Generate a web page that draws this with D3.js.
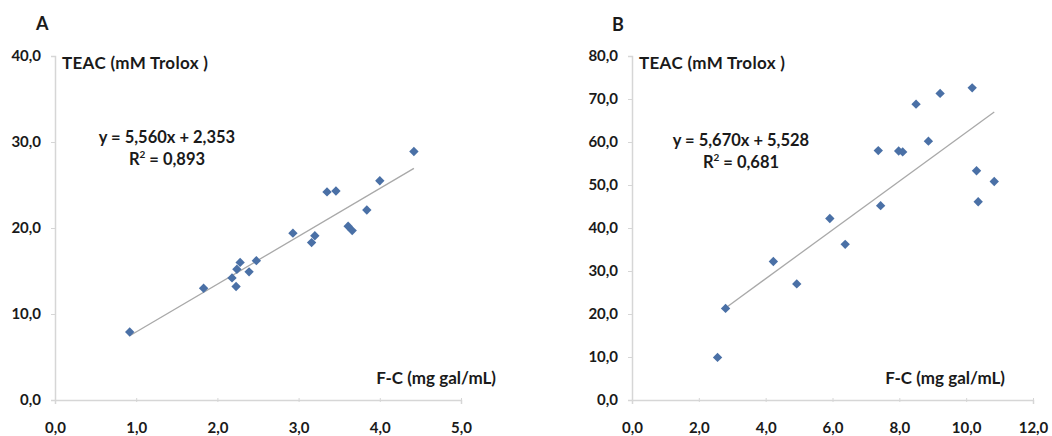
<!DOCTYPE html>
<html>
<head>
<meta charset="utf-8">
<script src="https://cdn.jsdelivr.net/npm/d3@7"></script>
<style>
  html, body { margin: 0; padding: 0; background: #fff; }
  svg text { font-family: Lato, "Open Sans", sans-serif; font-weight: bold; fill: #1a1a1a; }
</style>
</head>
<body>
<svg id="chart" width="1052" height="436"></svg>
<script>
// Panel A: F-C (mg gal/mL) vs TEAC (mM Trolox)
const fcA = [0.92, 1.83, 2.18, 2.23, 2.24, 2.28, 2.39, 2.48, 2.93, 3.16, 3.20, 3.35, 3.46, 3.61, 3.66, 3.84, 4.00, 4.42];
const teacA = [7.9, 13.0, 14.2, 13.2, 15.2, 16.0, 14.9, 16.2, 19.4, 18.3, 19.1, 24.2, 24.3, 20.2, 19.7, 22.1, 25.5, 28.9];
const fitA = { slope: 5.560, intercept: 2.353, r2: 0.893 };
const xTicksA = [0, 1, 2, 3, 4, 5];
const yTicksA = [0, 10, 20, 30, 40];

// Panel B
const fcB = [2.56, 2.80, 4.23, 4.93, 5.92, 6.38, 7.44, 7.37, 7.98, 8.10, 8.50, 8.87, 9.22, 10.18, 10.31, 10.84, 10.36];
const teacB = [9.9, 21.3, 32.2, 27.0, 42.2, 36.2, 45.2, 58.0, 57.9, 57.7, 68.8, 60.2, 71.3, 72.6, 53.3, 50.8, 46.1];
const fitB = { slope: 5.670, intercept: 5.528, r2: 0.681, from: 2.80 };
const xTicksB = [0, 2, 4, 6, 8, 10, 12];
const yTicksB = [0, 10, 20, 30, 40, 50, 60, 70, 80];

const locale = d3.formatLocale({ decimal: ",", thousands: ".", grouping: [3], currency: ["", ""] });
const fmt1 = locale.format(".1f");
const fmt3 = locale.format(".3f");

const svg = d3.select("#chart");

function panel(cfg) {
  const g = svg.append("g");
  const x = d3.scaleLinear().domain(cfg.xDomain).range(cfg.xRange);
  const y = d3.scaleLinear().domain(cfg.yDomain).range(cfg.yRange);

  // axes
  const xAxis = g.append("g")
    .attr("transform", `translate(0,${cfg.yRange[0]})`)
    .call(d3.axisBottom(x).tickValues(cfg.xTicks).tickFormat(fmt1).tickSize(4).tickPadding(18));
  const yAxis = g.append("g")
    .attr("transform", `translate(${cfg.xRange[0]},0)`)
    .call(d3.axisLeft(y).tickValues(cfg.yTicks).tickFormat(fmt1).tickSize(4).tickPadding(10));
  [xAxis, yAxis].forEach(a => {
    a.select(".domain").attr("stroke", "#d6d6d6").attr("stroke-width", 1.5);
    a.selectAll(".tick line").attr("stroke", "#d6d6d6");
    a.selectAll(".tick text").style("font-size", "15px").attr("fill", "#1a1a1a");
  });
  xAxis.selectAll(".tick line").attr("y1", -2).attr("y2", 2);
  yAxis.selectAll(".tick line").attr("x1", -4).attr("x2", 0);

  // trendline
  const x0 = cfg.fitFrom !== undefined ? cfg.fitFrom : d3.min(cfg.xs);
  const x1 = d3.max(cfg.xs);
  g.append("line")
    .attr("x1", x(x0)).attr("y1", y(cfg.fit.slope * x0 + cfg.fit.intercept))
    .attr("x2", x(x1)).attr("y2", y(cfg.fit.slope * x1 + cfg.fit.intercept))
    .attr("stroke", "#a9a9a9").attr("stroke-width", 1.3);

  // markers
  const diamond = d3.symbol().type(d3.symbolDiamond2).size(56);
  g.selectAll("path.pt").data(cfg.xs.map((v, i) => [v, cfg.ys[i]])).join("path")
    .attr("class", "pt")
    .attr("d", diamond)
    .attr("transform", d => `translate(${x(d[0])},${y(d[1])})`)
    .attr("fill", "#4a70a6");

  // labels
  g.append("text").attr("x", cfg.letterPos[0]).attr("y", cfg.letterPos[1])
    .style("font-size", "18px").text(cfg.letter);
  g.append("text").attr("x", cfg.xRange[0] + 7).attr("y", y(cfg.yDomain[1]) + 13)
    .style("font-size", "17px").attr("textLength", 146).text("TEAC (mM Trolox )");
  g.append("text").attr("x", cfg.xLabelEnd).attr("y", cfg.yRange[0] - 16)
    .attr("text-anchor", "end").style("font-size", "17px").text("F-C (mg gal/mL)");

  g.append("text").attr("text-anchor", "middle").style("font-size", "16.5px")
    .attr("x", cfg.eqPos[0]).attr("y", cfg.eqPos[1])
    .text(`y = ${fmt3(cfg.fit.slope)}x + ${fmt3(cfg.fit.intercept)}`);
  const r = g.append("text").attr("text-anchor", "middle").style("font-size", "16.5px")
    .attr("x", cfg.eqPos[0]).attr("y", cfg.eqPos[1] + 22);
  r.append("tspan").text("R");
  r.append("tspan").attr("dy", -7).style("font-size", "10px").text("2");
  r.append("tspan").attr("dy", 7).text(` = ${fmt3(cfg.fit.r2)}`);
}

panel({
  xs: fcA, ys: teacA, fit: fitA,
  xDomain: [0, 5], xRange: [55, 461],
  yDomain: [0, 40], yRange: [400, 56],
  xTicks: xTicksA, yTicks: yTicksA,
  letter: "A", letterPos: [36, 30],
  eqPos: [167, 143], xLabelEnd: 496
});

panel({
  xs: fcB, ys: teacB, fit: fitB, fitFrom: fitB.from,
  xDomain: [0, 12], xRange: [632, 1033],
  yDomain: [0, 80], yRange: [400, 56],
  xTicks: xTicksB, yTicks: yTicksB,
  letter: "B", letterPos: [612, 31],
  eqPos: [741, 146], xLabelEnd: 1005
});
</script>
</body>
</html>
